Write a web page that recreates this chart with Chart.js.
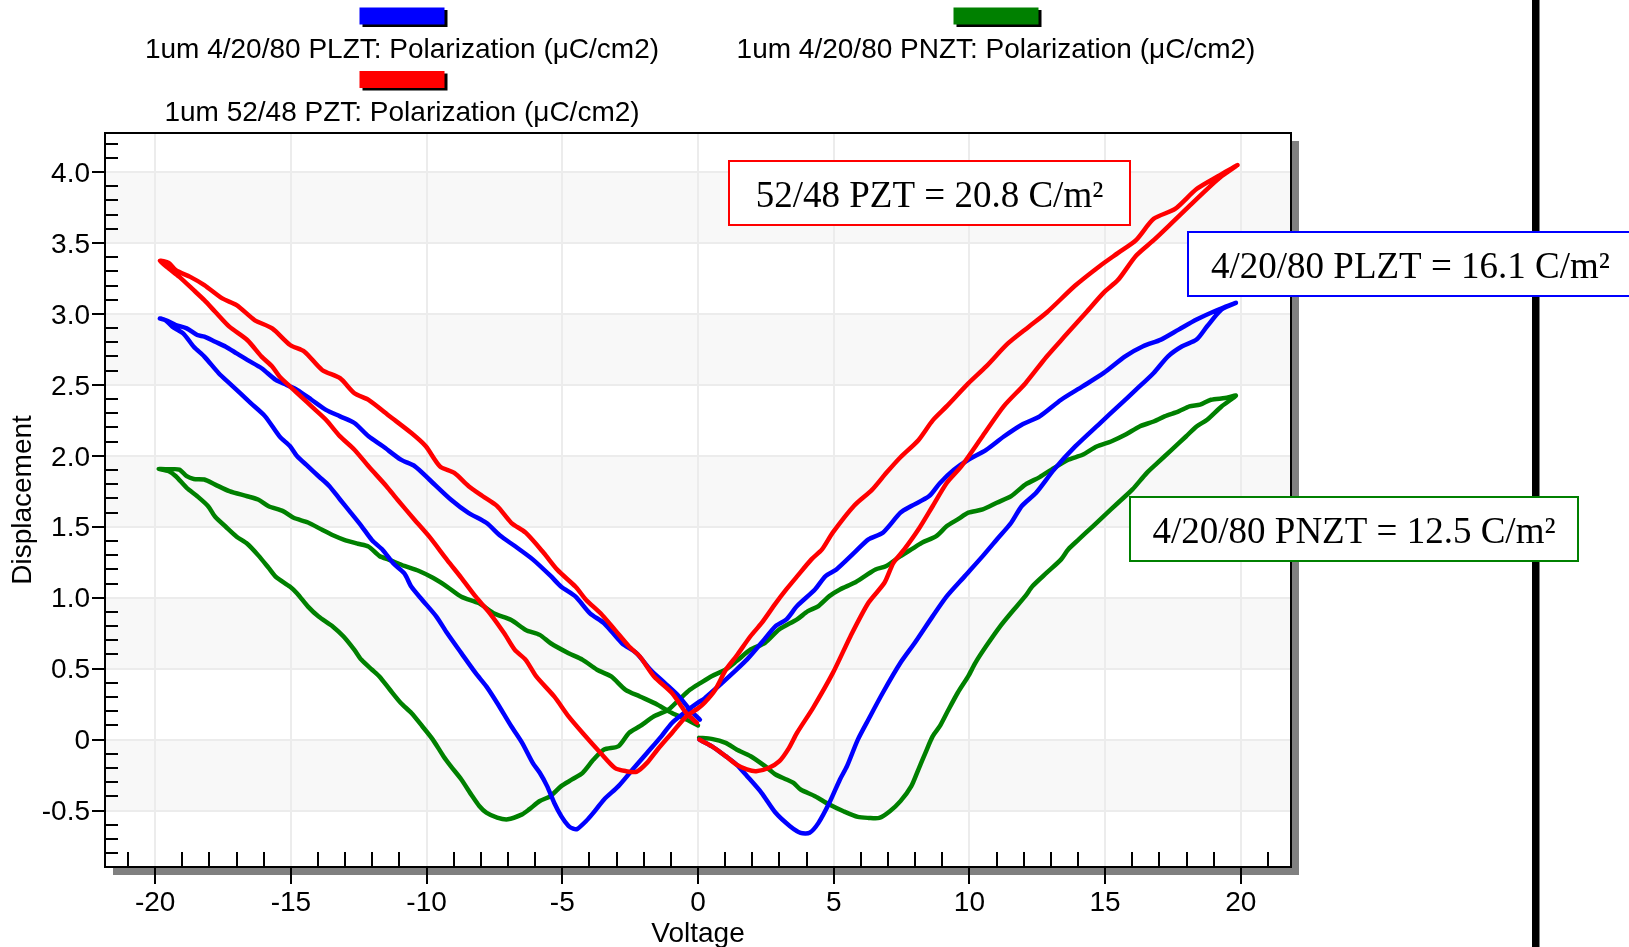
<!DOCTYPE html>
<html>
<head>
<meta charset="utf-8">
<script src="https://cdn.jsdelivr.net/npm/chart.js@4.4.1/dist/chart.umd.min.js"></script>
<style>
  html, body { margin: 0; padding: 0; background: #ffffff; overflow: hidden; }
  canvas { display: block; }
</style>
</head>
<body>
<canvas id="chart" width="1629" height="947"></canvas>
<script>
// Butterfly loops: 0 V -> +20 V -> -20 V -> 0 V, displacement vs voltage.

const seriesLabels = [
  '1um 4/20/80 PLZT: Polarization (\u03bcC/cm2)',
  '1um 4/20/80 PNZT: Polarization (\u03bcC/cm2)',
  '1um 52/48 PZT: Polarization (\u03bcC/cm2)'
];
const noteTexts = [
  '52/48 PZT = 20.8 C/m\u00b2',
  '4/20/80 PLZT = 16.1 C/m\u00b2',
  '4/20/80 PNZT = 12.5 C/m\u00b2'
];

const xTicks = [-20, -15, -10, -5, 0, 5, 10, 15, 20];
const xTickLabels = ['-20', '-15', '-10', '-5', '0', '5', '10', '15', '20'];
const yTicks = [4.0, 3.5, 3.0, 2.5, 2.0, 1.5, 1.0, 0.5, 0, -0.5];
const yTickLabels = ['4.0', '3.5', '3.0', '2.5', '2.0', '1.5', '1.0', '0.5', '0', '-0.5'];
const X_MIN = -21.85, X_MAX = 21.85;
const Y_MIN = -0.898, Y_MAX = 4.275;

// 52/48 PZT
const pztVoltage = [
  0.05, 0.5, 1.02, 1.42, 1.8, 2.14, 2.6, 3.0, 3.35, 3.65, 4.24, 4.97, 5.62, 6.28, 6.87, 7.2, 7.6, 8.12, 8.65, 9.17,
  9.7, 10.49, 11.27, 12.06, 12.85, 13.5, 14.3, 14.95, 15.48, 16.14, 16.79, 17.45, 18.1, 18.76, 19.29, 19.88,
  19.16, 18.37, 17.58, 16.79, 16.14, 15.48, 14.82, 13.9, 12.85, 12.19, 11.41, 10.62, 9.96, 9.17, 8.65, 8.12, 7.46,
  6.94, 6.41, 5.76, 4.97, 4.57, 4.18, 3.65, 3.26, 2.86, 2.34, 1.94, 1.42, 1.02, 0.63, 0.24, 0.0,
  -0.43, -0.96, -1.49, -1.88, -2.27, -2.67, -3.06, -3.59, -4.25, -4.77, -5.3, -5.96, -6.35, -6.75, -7.14, -7.67,
  -8.19, -8.72, -9.24, -9.9, -10.43, -11.08, -11.48, -12.14, -12.66, -13.19, -13.71, -14.24, -14.63, -15.03,
  -15.42, -15.69, -16.08, -16.61, -17.27, -17.79, -18.19, -18.58, -19.11, -19.5, -19.83,
  -19.5, -19.24, -18.71, -18.19, -17.53, -17.0, -16.34, -15.69, -15.03, -14.5, -13.85, -13.19, -12.66, -12.14,
  -11.35, -10.56, -10.03, -9.51, -8.98, -8.45, -7.93, -7.4, -6.88, -6.35, -5.69, -5.17, -4.51, -4.12, -3.59,
  -3.06, -2.54, -2.14, -1.62, -0.96, -0.43, -0.04
];
const pztDisplacement = [
  0.0, -0.046, -0.117, -0.176, -0.21, -0.223, -0.2, -0.152, -0.06, 0.048, 0.224, 0.47, 0.729, 0.964, 1.105, 1.246, 1.34, 1.48, 1.646, 1.81,
  1.925, 2.14, 2.35, 2.51, 2.70, 2.84, 3.01, 3.15, 3.24, 3.41, 3.52, 3.64, 3.76, 3.88, 3.97, 4.05,
  3.97, 3.88, 3.74, 3.67, 3.52, 3.43, 3.34, 3.2, 3.01, 2.91, 2.79, 2.63, 2.51, 2.35, 2.25, 2.11, 1.99,
  1.88, 1.76, 1.65, 1.46, 1.34, 1.27, 1.15, 1.06, 0.96, 0.82, 0.73, 0.59, 0.49, 0.35, 0.26, 0.22,
  0.164, 0.047, -0.07, -0.164, -0.227, -0.222, -0.2, -0.094, 0.047, 0.164, 0.304, 0.445, 0.562, 0.632, 0.749, 0.89,
  1.007, 1.14, 1.265, 1.43, 1.546, 1.692, 1.786, 1.926, 2.043, 2.137, 2.254, 2.348, 2.418, 2.488,
  2.559, 2.629, 2.699, 2.816, 2.91, 3.015, 3.097, 3.167, 3.261, 3.32, 3.374,
  3.36, 3.308, 3.261, 3.203, 3.109, 3.062, 2.957, 2.898, 2.781, 2.734, 2.605, 2.547, 2.441, 2.394,
  2.277, 2.16, 2.067, 1.926, 1.879, 1.786, 1.715, 1.645, 1.528, 1.458, 1.317, 1.194, 1.077, 0.984, 0.89,
  0.773, 0.656, 0.585, 0.445, 0.328, 0.187, 0.117
];

// 4/20/80 PLZT
const plztVoltage = [
  0.05, 0.5, 1.02, 1.42, 1.81, 2.34, 2.86, 3.39, 3.78, 4.11, 4.44, 4.84, 5.23, 5.49, 5.89, 6.28, 6.81, 7.46, 7.99, 8.65,
  9.17, 9.83, 10.49, 11.01, 11.54, 11.93, 12.46, 13.11, 13.9, 14.82, 15.48, 16.14, 16.79, 17.32, 17.84, 18.37, 18.76, 19.29, 19.82,
  19.03, 18.37, 17.71, 17.06, 16.4, 15.74, 14.95, 14.17, 13.38, 12.59, 11.93, 11.27, 10.62, 9.96, 9.43, 8.91, 8.52,
  7.86, 7.46, 6.81, 6.28, 5.76, 5.1, 4.7, 4.31, 3.65, 3.26, 2.86, 2.34, 1.81, 1.29, 0.76, 0.24, 0.0,
  -0.43, -0.96, -1.35, -1.88, -2.41, -2.93, -3.46, -3.85, -4.12, -4.45, -4.6, -4.77, -5.04, -5.3, -5.56, -5.83,
  -6.09, -6.48, -6.88, -7.4, -7.8, -8.19, -8.72, -9.24, -9.64, -10.16, -10.56, -10.82, -11.22, -11.61, -12.01,
  -12.4, -12.79, -13.19, -13.58, -13.98, -14.37, -14.77, -15.03, -15.42, -15.95, -16.48, -16.87, -17.27, -17.66,
  -18.19, -18.58, -18.97, -19.37, -19.63, -19.83,
  -19.6, -19.24, -18.84, -18.45, -18.19, -17.79, -17.4, -17.0, -16.61, -16.08, -15.56, -15.16, -14.77, -14.24,
  -13.71, -13.19, -12.66, -12.14, -11.61, -10.95, -10.43, -9.9, -9.11, -8.46, -7.8, -7.27, -6.75, -6.09, -5.43,
  -5.04, -4.51, -3.98, -3.46, -2.8, -2.27, -1.75, -1.22, -0.7, -0.3, 0.07
];
const plztDisplacement = [
  0.0, -0.046, -0.117, -0.176, -0.258, -0.375, -0.516, -0.61, -0.657, -0.657, -0.587, -0.446, -0.281, -0.187, 0.0, 0.142, 0.33, 0.541, 0.682, 0.87,
  1.011, 1.152, 1.293, 1.41, 1.528, 1.646, 1.74, 1.901, 2.066, 2.231, 2.348, 2.466, 2.584, 2.701, 2.772, 2.819, 2.913, 3.031, 3.078,
  3.019, 2.96, 2.889, 2.819, 2.772, 2.701, 2.584, 2.489, 2.395, 2.278, 2.219, 2.136, 2.042, 1.972, 1.901, 1.807, 1.716,
  1.646, 1.599, 1.458, 1.411, 1.317, 1.199, 1.152, 1.058, 0.941, 0.847, 0.8, 0.682, 0.565, 0.47, 0.377, 0.29, 0.26,
  0.2, 0.117, 0.023, -0.094, -0.211, -0.328, -0.422, -0.515, -0.574, -0.63, -0.628, -0.609, -0.539, -0.445, -0.328, -0.234,
  -0.164, -0.023, 0.094, 0.258, 0.375, 0.468, 0.609, 0.749, 0.867, 0.984, 1.077, 1.171, 1.241, 1.335, 1.405,
  1.505, 1.598, 1.692, 1.786, 1.856, 1.926, 1.996, 2.067, 2.137, 2.278, 2.371, 2.441, 2.512, 2.582,
  2.699, 2.769, 2.863, 2.91, 2.957, 2.968,
  2.955, 2.922, 2.898, 2.851, 2.84, 2.804, 2.769, 2.722, 2.676, 2.617, 2.535, 2.5, 2.465, 2.395,
  2.324, 2.278, 2.231, 2.137, 2.067, 1.973, 1.926, 1.833, 1.692, 1.598, 1.528, 1.434, 1.364, 1.27, 1.153,
  1.077, 1.007, 0.89, 0.82, 0.679, 0.609, 0.492, 0.398, 0.304, 0.211, 0.14
];

// 4/20/80 PNZT
const pnztVoltage = [
  0.04, 0.5, 1.02, 1.42, 1.94, 2.47, 2.86, 3.26, 3.52, 3.78, 4.31, 4.84, 5.36, 5.89, 6.28, 6.68, 7.07, 7.46, 7.86, 8.12,
  8.38, 8.65, 8.91, 9.17, 9.57, 9.96, 10.22, 10.62, 11.14, 11.54, 12.06, 12.33, 12.85, 13.38, 13.64, 14.03, 14.56, 14.95, 15.48, 16.01,
  16.53, 16.92, 17.45, 17.98, 18.37, 18.76, 19.29, 19.82,
  19.42, 18.9, 18.5, 18.11, 17.71, 17.19, 16.79, 16.27, 15.74, 15.22, 14.69, 14.17, 13.64, 13.11, 12.59, 12.06, 11.54, 11.01, 10.49, 9.96,
  9.57, 9.17, 8.78, 8.25, 7.86, 7.46, 6.94, 6.54, 6.15, 5.76, 5.23, 4.84, 4.44, 4.05, 3.65, 2.99, 2.47, 1.94, 1.42, 1.02, 0.5, 0.1,
  -0.3, -0.7, -1.09, -1.62, -2.14, -2.54, -2.93, -3.46, -3.85, -4.25, -4.64, -5.04, -5.43, -5.83, -6.22, -6.48, -7.01, -7.4, -7.8, -8.06,
  -8.32, -8.72, -9.11, -9.38, -9.77, -10.16, -10.56, -10.95, -11.35, -11.74, -12.01, -12.4, -12.66, -13.06, -13.45, -13.98, -14.37, -14.77, -15.03, -15.56,
  -15.82, -16.21, -16.61, -17.0, -17.4, -17.79, -18.05, -18.45, -18.84, -19.24, -19.5, -19.87,
  -19.5, -19.11, -18.84, -18.58, -18.19, -17.79, -17.27, -16.61, -16.21, -15.82, -15.29, -14.9, -14.37, -13.85, -13.45, -13.06, -12.53, -12.14, -11.74, -11.35,
  -10.82, -10.3, -9.77, -9.24, -8.72, -8.06, -7.53, -6.88, -6.35, -5.83, -5.43, -4.77, -4.25, -3.72, -3.2, -2.67, -2.14, -1.49, -0.96, -0.43, 0.0
];
const pnztDisplacement = [
  0.012, 0.005, -0.023, -0.07, -0.117, -0.187, -0.246, -0.281, -0.305, -0.352, -0.399, -0.458, -0.505, -0.545, -0.552, -0.552, -0.505, -0.434, -0.328, -0.211,
  -0.093, 0.024, 0.095, 0.189, 0.33, 0.447, 0.541, 0.659, 0.8, 0.894, 1.011, 1.082, 1.176, 1.27, 1.34, 1.411, 1.505, 1.575, 1.669, 1.763,
  1.878, 1.948, 2.042, 2.136, 2.207, 2.254, 2.348, 2.424,
  2.407, 2.395, 2.36, 2.348, 2.313, 2.278, 2.242, 2.207, 2.148, 2.101, 2.066, 2.007, 1.972, 1.913, 1.85, 1.797, 1.716, 1.669, 1.622, 1.599,
  1.552, 1.505, 1.434, 1.387, 1.34, 1.293, 1.223, 1.199, 1.152, 1.105, 1.058, 1.011, 0.941, 0.905, 0.847, 0.776, 0.682, 0.635, 0.553, 0.494, 0.447, 0.4,
  0.351, 0.281, 0.211, 0.164, 0.094, 0.047, -0.047, -0.07, -0.141, -0.234, -0.281, -0.328, -0.398, -0.433, -0.492, -0.527, -0.562, -0.55, -0.515, -0.468,
  -0.398, -0.281, -0.187, -0.117, 0.0, 0.094, 0.187, 0.258, 0.351, 0.445, 0.492, 0.562, 0.632, 0.726, 0.796, 0.867, 0.937, 1.03, 1.077, 1.148,
  1.21, 1.3, 1.38, 1.43, 1.5, 1.57, 1.645, 1.715, 1.774, 1.856, 1.891, 1.907,
  1.905, 1.903, 1.856, 1.837, 1.833, 1.797, 1.751, 1.715, 1.692, 1.645, 1.61, 1.563, 1.53, 1.478, 1.44, 1.41, 1.38, 1.36, 1.294, 1.265,
  1.224, 1.19, 1.14, 1.077, 1.007, 0.96, 0.89, 0.843, 0.773, 0.738, 0.679, 0.609, 0.562, 0.492, 0.445, 0.351, 0.304, 0.246, 0.187, 0.141, 0.1
];

const BLUE = '#0000ff', GREEN = '#008000', RED = '#ff0000';
const SANS = '"Liberation Sans", Arial, sans-serif';
const SERIF = '"Liberation Serif", "Times New Roman", serif';

function toPoints(xs, ys) {
  return xs.map((x, i) => ({ x: x, y: ys[i] }));
}

// Plot frame: drop shadow, alternating bands, closing borders, minor ticks,
// legend, marker line and labelled boxes.
const framePlugin = {
  id: 'framePlugin',
  beforeDraw(chart) {
    const { ctx, chartArea: a, scales: { y } } = chart;
    ctx.save();
    ctx.fillStyle = '#808080';
    ctx.fillRect(a.left + 8, a.top + 8, a.right - a.left, a.bottom - a.top);
    ctx.fillStyle = '#ffffff';
    ctx.fillRect(a.left, a.top, a.right - a.left, a.bottom - a.top);
    ctx.fillStyle = '#f8f8f8';
    for (let i = 0; i + 1 < yTicks.length; i += 2) {
      const y1 = y.getPixelForValue(yTicks[i]);
      const y2 = y.getPixelForValue(yTicks[i + 1]);
      ctx.fillRect(a.left, Math.min(y1, y2), a.right - a.left, Math.abs(y2 - y1));
    }
    ctx.restore();
  },
  beforeDatasetsDraw(chart) {
    const { ctx, chartArea: a, scales: { x, y } } = chart;
    ctx.save();
    ctx.strokeStyle = '#000000';
    ctx.lineWidth = 2;
    ctx.beginPath();
    ctx.moveTo(a.left - 1, a.top);
    ctx.lineTo(a.right, a.top);
    ctx.lineTo(a.right, a.bottom + 1);
    ctx.stroke();
    // minor ticks pointing into the plot
    ctx.beginPath();
    for (let v = Math.ceil(x.min); v <= Math.floor(x.max); v++) {
      if (v % 5 === 0) continue;
      const px = Math.round(x.getPixelForValue(v));
      ctx.moveTo(px, a.bottom);
      ctx.lineTo(px, a.bottom - 15);
    }
    for (let k = Math.ceil(y.min * 10); k <= Math.floor(y.max * 10); k++) {
      if (k % 5 === 0) continue;
      const py = Math.round(y.getPixelForValue(k / 10));
      ctx.moveTo(a.left, py);
      ctx.lineTo(a.left + 13, py);
    }
    ctx.stroke();
    ctx.restore();
  },
  afterDraw(chart) {
    const ctx = chart.ctx;
    const sets = chart.data.datasets;
    ctx.save();

    // legend
    const legendItems = [
      { set: sets[1], cx: 402, top: 7.5, base: 57.5 },
      { set: sets[2], cx: 996, top: 7.5, base: 57.5 },
      { set: sets[0], cx: 402, top: 71, base: 121 }
    ];
    ctx.font = '28px ' + SANS;
    ctx.textAlign = 'center';
    ctx.textBaseline = 'alphabetic';
    legendItems.forEach(it => {
      const w = 85, h = 17;
      ctx.fillStyle = '#000000';
      ctx.fillRect(it.cx - w / 2 + 3, it.top + 2.5, w, h);
      ctx.fillStyle = it.set.borderColor;
      ctx.fillRect(it.cx - w / 2, it.top, w, h);
      ctx.fillStyle = '#000000';
      ctx.fillText(it.set.label, it.cx, it.base);
    });

    // vertical marker line
    ctx.fillStyle = '#000000';
    ctx.fillRect(1532, 0, 7.5, chart.height);

    // labelled boxes
    const notes = [
      { text: noteTexts[0], color: RED, x: 729, y: 161, w: 401, h: 64, base: 207 },
      { text: noteTexts[1], color: BLUE, x: 1188, y: 232, w: 450, h: 64, base: 278 },
      { text: noteTexts[2], color: GREEN, x: 1130, y: 497, w: 448, h: 64, base: 543 }
    ];
    ctx.font = '37px ' + SERIF;
    notes.forEach(n => {
      ctx.fillStyle = '#ffffff';
      ctx.fillRect(n.x, n.y, n.w, n.h);
      ctx.strokeStyle = n.color;
      ctx.lineWidth = 2;
      ctx.strokeRect(n.x, n.y, n.w, n.h);
      ctx.fillStyle = '#000000';
      ctx.textAlign = 'left';
      const tw = ctx.measureText(n.text).width;
      const pad = n.color === BLUE ? 23 : (n.w - tw) / 2;
      ctx.fillText(n.text, n.x + pad, n.base);
    });
    ctx.restore();
  }
};

const lineStyle = {
  showLine: true,
  fill: false,
  borderWidth: 4.5,
  pointRadius: 0,
  pointHoverRadius: 0,
  tension: 0.25,
  borderCapStyle: 'round',
  borderJoinStyle: 'round'
};

new Chart(document.getElementById('chart'), {
  type: 'scatter',
  data: {
    datasets: [
      Object.assign({ label: seriesLabels[2], data: toPoints(pztVoltage, pztDisplacement), borderColor: RED, backgroundColor: RED }, lineStyle),
      Object.assign({ label: seriesLabels[0], data: toPoints(plztVoltage, plztDisplacement), borderColor: BLUE, backgroundColor: BLUE }, lineStyle),
      Object.assign({ label: seriesLabels[1], data: toPoints(pnztVoltage, pnztDisplacement), borderColor: GREEN, backgroundColor: GREEN }, lineStyle)
    ]
  },
  options: {
    responsive: false,
    animation: false,
    devicePixelRatio: 1,
    events: [],
    layout: { padding: { top: 133, right: 338, bottom: 0, left: 0 } },
    plugins: { legend: { display: false }, tooltip: { enabled: false }, title: { display: false } },
    scales: {
      x: {
        type: 'linear',
        position: 'bottom',
        min: X_MIN,
        max: X_MAX,
        afterFit: s => { s.height = 80; },
        afterBuildTicks: s => { s.ticks = xTicks.map(v => ({ value: v })); },
        ticks: {
          autoSkip: false,
          maxRotation: 0,
          padding: 5,
          color: '#000000',
          font: { family: SANS, size: 28, lineHeight: 1 },
          callback: (v, i) => xTickLabels[i]
        },
        grid: { color: '#ececec', lineWidth: 2, drawTicks: true, tickLength: 17, tickWidth: 2, tickColor: '#000000' },
        border: { display: true, color: '#000000', width: 2 },
        title: {
          display: true, text: 'Voltage', color: '#000000',
          font: { family: SANS, size: 28, lineHeight: 0.8 },
          padding: { top: 0, bottom: 1.3 }
        }
      },
      y: {
        type: 'linear',
        position: 'left',
        min: Y_MIN,
        max: Y_MAX,
        afterFit: s => { s.width = 105; },
        afterBuildTicks: s => { s.ticks = yTicks.map(v => ({ value: v })); },
        ticks: {
          autoSkip: false,
          padding: 2,
          labelOffset: 2,
          color: '#000000',
          font: { family: SANS, size: 28, lineHeight: 1 },
          callback: (v, i) => yTickLabels[i]
        },
        grid: { color: '#ececec', lineWidth: 2, drawTicks: true, tickLength: 13, tickWidth: 2, tickColor: '#000000' },
        border: { display: true, color: '#000000', width: 2 },
        title: {
          display: true, text: 'Displacement', color: '#000000',
          font: { family: SANS, size: 28, lineHeight: 1 },
          padding: { top: 9, bottom: 0 }
        }
      }
    }
  },
  plugins: [framePlugin]
});
</script>
</body>
</html>
